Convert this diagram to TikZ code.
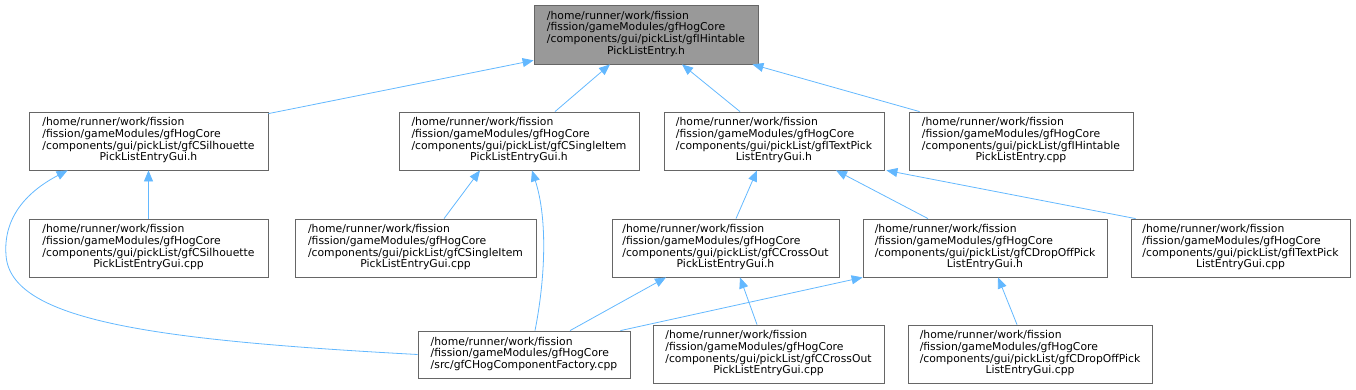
\documentclass[tikz,border=0pt]{standalone}
\usepackage{fontspec}
\setmainfont{DejaVu Sans}
\usetikzlibrary{arrows.meta}
\definecolor{edgeblue}{HTML}{63B8FF}
\definecolor{boxborder}{HTML}{666666}
\definecolor{rootfill}{HTML}{999999}
\newcommand{\fourl}[4]{\begin{tabular}{@{}l@{}}#1\\#2\\#3\\\multicolumn{1}{@{}c@{}}{#4}\end{tabular}}
\newcommand{\threel}[3]{\begin{tabular}{@{}l@{}}#1\\#2\\#3\end{tabular}}
\newcommand{\pre}{/home/runner/work/fission}
\newcommand{\pree}{/fission/gameModules/gfHogCore}
\begin{document}
\begin{tikzpicture}[x=1pt,y=-1pt,
  box/.style={draw=boxborder, line width=0.8pt, fill=white, inner sep=0pt,
    minimum height=58pt, font=\fontsize{10.8}{11.7}\selectfont, align=center},
  edge/.style={draw=edgeblue, line width=0.8pt, -{Triangle[length=11pt,width=9pt]}}]
\useasboundingbox (0,0) rectangle (1356,389);

\node[box, fill=rootfill, minimum width=224pt, minimum height=59pt] (root) at (646,34.5)
  {\fourl{\pre}{\pree}{/components/gui/pickList/gfIHintable}{PickListEntry.h}};

\node[box, minimum width=239pt] (silh) at (148.5,141)
  {\fourl{\pre}{\pree}{/components/gui/pickList/gfCSilhouette}{PickListEntryGui.h}};
\node[box, minimum width=240pt] (singh) at (519,141)
  {\fourl{\pre}{\pree}{/components/gui/pickList/gfCSingleItem}{PickListEntryGui.h}};
\node[box, minimum width=220pt] (texth) at (774,141)
  {\fourl{\pre}{\pree}{/components/gui/pickList/gfITextPick}{ListEntryGui.h}};
\node[box, minimum width=224pt] (hintcpp) at (1021,141)
  {\fourl{\pre}{\pree}{/components/gui/pickList/gfIHintable}{PickListEntry.cpp}};

\node[box, minimum width=239pt] (silcpp) at (148.5,248)
  {\fourl{\pre}{\pree}{/components/gui/pickList/gfCSilhouette}{PickListEntryGui.cpp}};
\node[box, minimum width=241pt] (singcpp) at (415.5,248)
  {\fourl{\pre}{\pree}{/components/gui/pickList/gfCSingleItem}{PickListEntryGui.cpp}};
\node[box, minimum width=227pt] (crossh) at (725.5,248)
  {\fourl{\pre}{\pree}{/components/gui/pickList/gfCCrossOut}{PickListEntryGui.h}};
\node[box, minimum width=244pt] (droph) at (985,248)
  {\fourl{\pre}{\pree}{/components/gui/pickList/gfCDropOffPick}{ListEntryGui.h}};
\node[box, minimum width=219pt] (textcpp) at (1240.5,248)
  {\fourl{\pre}{\pree}{/components/gui/pickList/gfITextPick}{ListEntryGui.cpp}};

\node[box, minimum width=212pt, minimum height=47pt] (factory) at (524,354.5)
  {\threel{\pre}{\pree}{/src/gfCHogComponentFactory.cpp}};
\node[box, minimum width=231pt] (crosscpp) at (768.5,354)
  {\fourl{\pre}{\pree}{/components/gui/pickList/gfCCrossOut}{PickListEntryGui.cpp}};
\node[box, minimum width=244pt] (dropcpp) at (1030,354)
  {\fourl{\pre}{\pree}{/components/gui/pickList/gfCDropOffPick}{ListEntryGui.cpp}};

\draw[edge] ([yshift=-2pt]silh.north east) -- ([yshift=4pt]root.south west);
\draw[edge] ([xshift=36pt]singh.north) -- ([xshift=-36pt]root.south);
\draw[edge] ([xshift=-34pt]texth.north) -- ([xshift=36pt]root.south);
\draw[edge] ([xshift=11pt]hintcpp.north west) -- ([xshift=-6pt]root.south east);
\draw[edge] (silcpp.north) -- (silh.south);
\draw[edge] (factory.west) .. controls (150,340) and (10,320) .. (6,255)
  .. controls (3,215) and (30,190) .. ([xshift=39pt]silh.south west);
\draw[edge] ([xshift=28.5pt]singcpp.north) -- ([xshift=-39pt]singh.south);
\draw[edge] ([xshift=11pt]factory.north) .. controls (545,280) and (548,220) .. ([xshift=13pt]singh.south);
\draw[edge] ([xshift=10.5pt]crossh.north) -- ([xshift=-17pt]texth.south);
\draw[edge] ([xshift=-57pt]droph.north) -- ([xshift=62pt]texth.south);
\draw[edge] ([xshift=5pt]textcpp.north west) -- ([xshift=2pt]texth.south east);
\draw[edge] ([xshift=46pt]factory.north) -- ([xshift=-59.5pt]crossh.south);
\draw[edge] ([xshift=-10pt]factory.north east) -- (droph.south west);
\draw[edge] ([xshift=-11.5pt]crosscpp.north) -- ([xshift=14.5pt]crossh.south);
\draw[edge] ([xshift=-13pt]dropcpp.north) -- ([xshift=13pt]droph.south);
\end{tikzpicture}
\end{document}
